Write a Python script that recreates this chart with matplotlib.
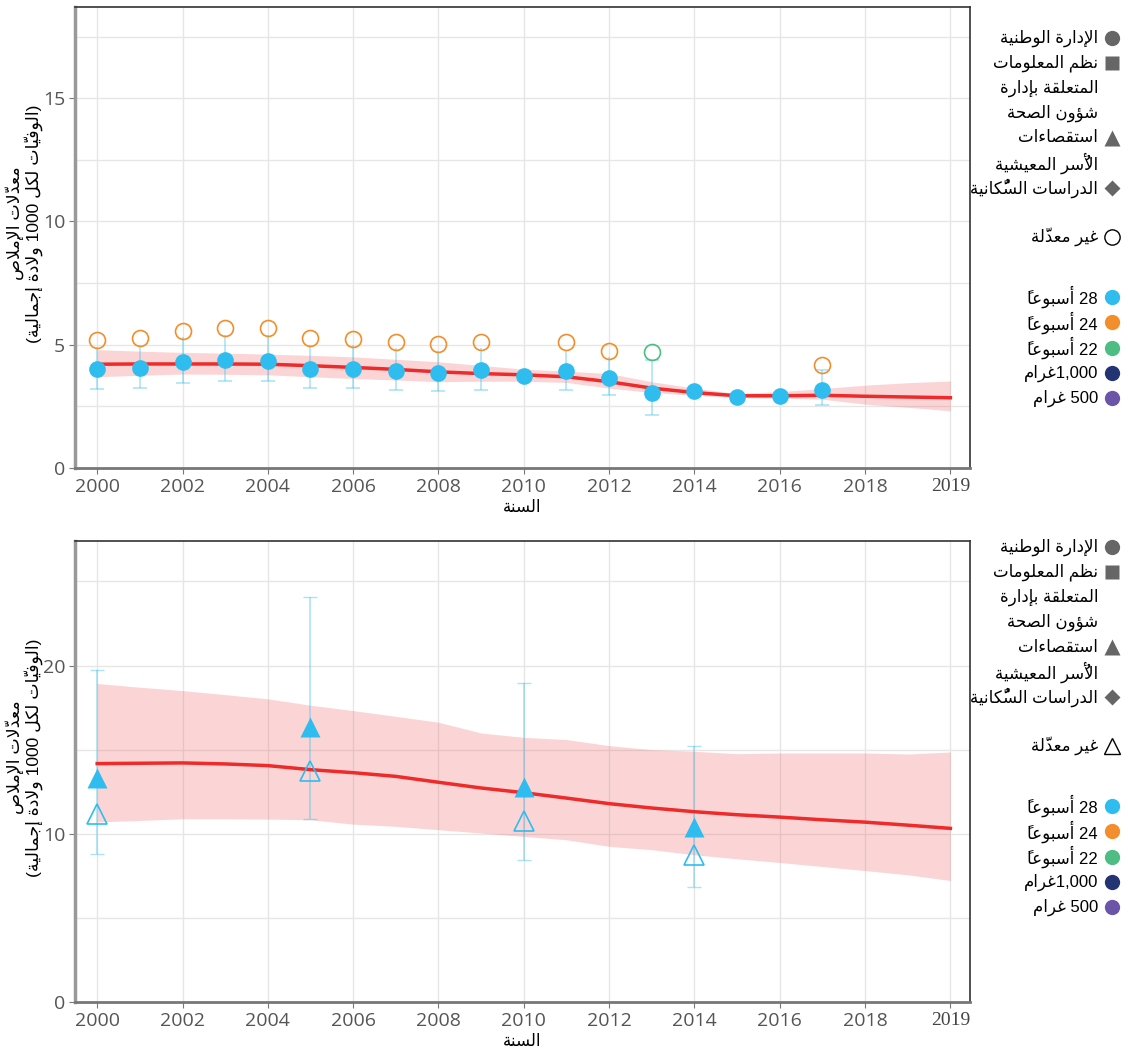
import matplotlib
matplotlib.use("Agg")
from matplotlib import pyplot as plt
from matplotlib.lines import Line2D

# ---------------- top panel: national admin data / HMIS
years = list(range(2000, 2018))
rate_28wk = [4.01, 4.04, 4.28, 4.38, 4.35, 4.02, 4.02, 3.94, 3.86, 3.96,
             3.75, 3.93, 3.66, 3.06, 3.13, 2.86, 2.93, 3.18]

bar_years = [2000, 2001, 2002, 2003, 2004, 2005, 2006, 2007, 2008, 2009, 2011, 2012, 2013, 2017]
bar_low = [3.22, 3.24, 3.44, 3.54, 3.51, 3.26, 3.24, 3.17, 3.12, 3.17, 3.16, 2.95, 2.14, 2.56]
bar_high = [4.90, 5.00, 5.30, 5.40, 5.40, 5.00, 5.00, 4.85, 4.75, 4.85, 4.80, 4.50, 4.38, 3.97]
cap_top_years = [2013, 2017]

unadj_years = [2000, 2001, 2002, 2003, 2004, 2005, 2006, 2007, 2008, 2009, 2011, 2012, 2013, 2017]
unadj_rate = [5.20, 5.26, 5.56, 5.69, 5.66, 5.27, 5.24, 5.12, 5.03, 5.13, 5.11, 4.76, 4.69, 4.16]
unadj_def = ['24', '24', '24', '24', '24', '24', '24', '24', '24', '24', '24', '24', '22', '24']

trend_years = list(range(2000, 2021))
trend_top = [4.21, 4.22, 4.22, 4.22, 4.21, 4.15, 4.08, 4.00, 3.90, 3.83, 3.78,
             3.70, 3.50, 3.24, 3.06, 2.93, 2.93, 2.95, 2.91, 2.88, 2.85]
trend_top_lo = [3.70, 3.76, 3.81, 3.80, 3.78, 3.70, 3.63, 3.57, 3.50, 3.52, 3.52,
                3.47, 3.24, 3.06, 2.95, 2.86, 2.83, 2.79, 2.59, 2.46, 2.32]
trend_top_hi = [4.80, 4.74, 4.69, 4.66, 4.62, 4.57, 4.51, 4.41, 4.31, 4.16, 4.01,
                3.93, 3.83, 3.50, 3.24, 3.02, 3.10, 3.22, 3.36, 3.46, 3.53]

# ---------------- bottom panel: household surveys
survey_years = [2000, 2005, 2010, 2014]
survey_adj = [13.30, 16.35, 12.80, 10.38]
survey_unadj = [11.19, 13.75, 10.77, 8.71]
survey_lo = [8.79, 10.89, 8.43, 6.85]
survey_hi = [19.72, 24.10, 18.97, 15.22]

trend_bot = [14.17, 14.19, 14.21, 14.15, 14.05, 13.81, 13.63, 13.41, 13.06, 12.72, 12.44,
             12.12, 11.79, 11.53, 11.31, 11.13, 10.99, 10.83, 10.69, 10.51, 10.32]
trend_bot_lo = [10.70, 10.79, 10.89, 10.89, 10.87, 10.83, 10.57, 10.44, 10.24, 10.04, 9.84,
                9.64, 9.25, 9.05, 8.75, 8.51, 8.29, 8.05, 7.81, 7.56, 7.22]
trend_bot_hi = [18.93, 18.71, 18.51, 18.27, 18.02, 17.64, 17.32, 16.98, 16.63, 15.99, 15.73,
                15.60, 15.24, 15.00, 14.90, 14.76, 14.80, 14.80, 14.80, 14.74, 14.86]

xtick_pos = [2000, 2002, 2004, 2006, 2008, 2010, 2012, 2014, 2016, 2018, 2020]
xtick_lab = ['2000', '2002', '2004', '2006', '2008', '2010', '2012', '2014', '2016', '2018', '2019']

ylab = "معدّلات الإملاص\n(الوفيّات لكل 1000 ولادة إجمالية)"
xlab = "السنة"
src_labels = ["الإدارة الوطنية", "نظم المعلومات\nالمتعلقة بإدارة\nشؤون الصحة",
              "استقصاءات\nالأُسر المعيشية", "الدراسات السُّكانية"]
unadj_label = "غير معدّلة"
def_labels = ["28 أسبوعاً", "24 أسبوعاً", "22 أسبوعاً", "1,000غرام", "500 غرام"]

C_BLUE = '#2ebdee'
C_ORANGE = '#f28e2b'
C_GREEN = '#4dbd84'
C_NAVY = '#233473'
C_PURPLE = '#6a55a8'
def_colors = {'28': C_BLUE, '24': C_ORANGE, '22': C_GREEN}


# ---- minimal arabic shaping (matplotlib has no complex text layout)
AR = "ءآأؤإئابةتثجحخدذرزسشصضطظعغفقكلمنهوىي"
NF = [1, 2, 2, 2, 2, 4, 2, 4, 2, 4, 4, 4, 4, 4, 2, 2, 2, 2] + [4] * 15 + [2, 2, 4]
FORMS = {}
cp = 0xFE80
for ch, n in zip(AR, NF):
    FORMS[ch] = [chr(cp + k) for k in range(n)]
    cp += n
LAM_ALEF = {'آ': 0xFEF5, 'أ': 0xFEF7, 'إ': 0xFEF9, 'ا': 0xFEFB}
for a, c in LAM_ALEF.items():
    FORMS['ل' + a] = [chr(c), chr(c + 1)]
DIG = "0123456789,."
MIRROR = {'(': ')', ')': '('}


def jtype(b):
    if b not in FORMS:
        return 'U'
    n = len(FORMS[b])
    return 'D' if n == 4 else ('R' if n == 2 else 'U')


def shape_line(s):
    toks = []
    for ch in s:
        if '\u064b' <= ch <= '\u0652' or ch == '\u0670':
            if toks:
                toks[-1][1] += ch
            continue
        toks.append([ch, ''])
    merged = []
    i = 0
    while i < len(toks):
        if toks[i][0] == 'ل' and i + 1 < len(toks) and toks[i + 1][0] in LAM_ALEF:
            merged.append(['ل' + toks[i + 1][0], toks[i][1] + toks[i + 1][1]])
            i += 2
        else:
            merged.append(toks[i])
            i += 1
    types = [jtype(t[0]) for t in merged]
    units = []
    for i, t in enumerate(merged):
        if t[0] not in FORMS:
            units.append(t[1] + t[0])
            continue
        ty = types[i]
        pj = i > 0 and types[i - 1] == 'D' and ty in 'DR'
        nj = ty == 'D' and i + 1 < len(merged) and types[i + 1] in 'DR'
        idx = 3 if (pj and nj) else 1 if pj else 2 if nj else 0
        # marks go in front of the base: their outline sits right of the pen
        units.append(t[1] + FORMS[t[0]][idx])
    out = []
    for u in units:
        if u in DIG and out and out[-1][0] in DIG:
            out[-1] += u
        else:
            out.append(u)
    return ''.join(MIRROR.get(u, u) for u in reversed(out))


def ar(s):
    return '\n'.join(shape_line(l) for l in s.split('\n'))


TXT_FONT = ['Liberation Sans', 'DejaVu Sans']
NUM_FONT = 'Open Sans'

W, H = 1128, 1049
fig = plt.figure(figsize=(W / 100, H / 100), dpi=100)


def style_axes(ax, ymax, ymaj, ymin):
    ax.set_xlim(1999.48, 2020.46)
    ax.set_ylim(0, ymax)
    ax.set_xticks(xtick_pos)
    ax.set_xticklabels(xtick_lab)
    ax.set_yticks(ymaj)
    ax.set_yticks(ymin, minor=True)
    ax.grid(True, which='both', color='#e6e6e6', lw=1, zorder=0)
    ax.set_axisbelow(True)
    ax.spines['left'].set_color('#999999')
    ax.spines['left'].set_linewidth(2.5)
    ax.spines['bottom'].set_color('#777777')
    ax.spines['bottom'].set_linewidth(2)
    ax.spines['top'].set_color('#333333')
    ax.spines['top'].set_linewidth(1.2)
    ax.spines['right'].set_color('#333333')
    ax.spines['right'].set_linewidth(1.2)
    ax.tick_params(which='major', direction='out', length=4, color='#777777',
                   labelcolor='#555555', labelsize=14, pad=3)
    ax.tick_params(which='minor', length=0)
    for lab in ax.get_xticklabels() + ax.get_yticklabels():
        lab.set_fontfamily(NUM_FONT)
    last = ax.get_xticklabels()[-1]
    last.set_fontfamily('Liberation Serif')
    last.set_fontsize(14)
    last.set_color('#444444')
    ax.set_ylabel(ar(ylab), family=TXT_FONT, fontsize=12.5, linespacing=1.0)
    ax.yaxis.set_label_coords(-0.036, 0.53)
    ax.set_xlabel(ar(xlab), family=TXT_FONT, fontsize=12, labelpad=3)


# ---------------- top panel
ax1 = fig.add_axes([75 / W, 1 - 468 / H, 895 / W, 461 / H])
ax1.fill_between(trend_years, trend_top_lo, trend_top_hi, color='#ef4444', alpha=0.22, lw=0, zorder=2)
ax1.vlines(bar_years, bar_low, bar_high, color=C_BLUE, alpha=0.4, lw=1.2, zorder=3)
ax1.plot(bar_years, bar_low, '_', ms=10, mew=1.2, color=C_BLUE, alpha=0.4, zorder=3)
for yr, h in zip(bar_years, bar_high):
    if yr in cap_top_years:
        ax1.plot(yr, h, '_', ms=10, mew=1.2, color=C_BLUE, alpha=0.4, zorder=3)
ax1.plot(trend_years, trend_top, color='#ee2a2a', lw=2.5, zorder=4)
for yr, v, d in zip(unadj_years, unadj_rate, unadj_def):
    ax1.plot(yr, v, 'o', ms=11.5, mfc='none', mec=def_colors[d], mew=1.2, zorder=5)
ax1.plot(years, rate_28wk, 'o', ms=12, color=C_BLUE, mec='none', zorder=6)
style_axes(ax1, 18.7, [0, 5, 10, 15], [2.5, 7.5, 12.5, 17.5])

# ---------------- bottom panel
ax2 = fig.add_axes([75 / W, 1 - 1002 / H, 895 / W, 461 / H])
ax2.fill_between(trend_years, trend_bot_lo, trend_bot_hi, color='#ef4444', alpha=0.22, lw=0, zorder=2)
ax2.errorbar(survey_years, [(l + h) / 2 for l, h in zip(survey_lo, survey_hi)],
             yerr=[[(h - l) / 2 for l, h in zip(survey_lo, survey_hi)]] * 2,
             fmt='none', ecolor=C_BLUE, alpha=0.4, elinewidth=1.2, capsize=5, zorder=3)
ax2.plot(trend_years, trend_bot, color='#ee2a2a', lw=2.5, zorder=4)
ax2.plot(survey_years, survey_unadj, '^', ms=14, mfc='none', mec=C_BLUE, mew=1.2, zorder=5)
ax2.plot(survey_years, survey_adj, '^', ms=14, color=C_BLUE, mec='none', zorder=6)
style_axes(ax2, 27.4, [0, 10, 20], [5, 15, 25])


# ---------------- legends (drawn in figure pixels)
def legend(y0, open_marker):
    mx, tx = 1112, 1098
    rows = [(38, 'o', 11, src_labels[0]), (63, 's', 9.5, src_labels[1]),
            (138, '^', 12, src_labels[2]), (188, 'D', 8, src_labels[3])]
    for y, m, s, lab in rows:
        fig.add_artist(Line2D([mx / W], [1 - (y0 + y) / H], marker=m, ms=s, color='#666666',
                              mec='none', transform=fig.transFigure))
        for k, line in enumerate(lab.split('\n')):
            fig.text(tx / W, 1 - (y0 + y + k * 25) / H, ar(line), family=TXT_FONT,
                     fontsize=12, ha='right', va='center')
    fig.add_artist(Line2D([mx / W], [1 - (y0 + 237) / H], marker=open_marker, ms=11,
                          mfc='white', mec='black', mew=1, transform=fig.transFigure))
    fig.text(tx / W, 1 - (y0 + 237) / H, ar(unadj_label), family=TXT_FONT,
             fontsize=12, ha='right', va='center')
    cols = [C_BLUE, C_ORANGE, C_GREEN, C_NAVY, C_PURPLE]
    for k, (c, lab) in enumerate(zip(cols, def_labels)):
        y = y0 + 297 + k * 25.3
        fig.add_artist(Line2D([mx / W], [1 - y / H], marker='o', ms=11, color=c,
                              mec='none', transform=fig.transFigure))
        fig.text(tx / W, 1 - y / H, ar(lab), family=TXT_FONT, fontsize=12,
                 ha='right', va='center')


legend(0, 'o')
legend(509, '^')

fig.savefig('out.png', dpi=100)
